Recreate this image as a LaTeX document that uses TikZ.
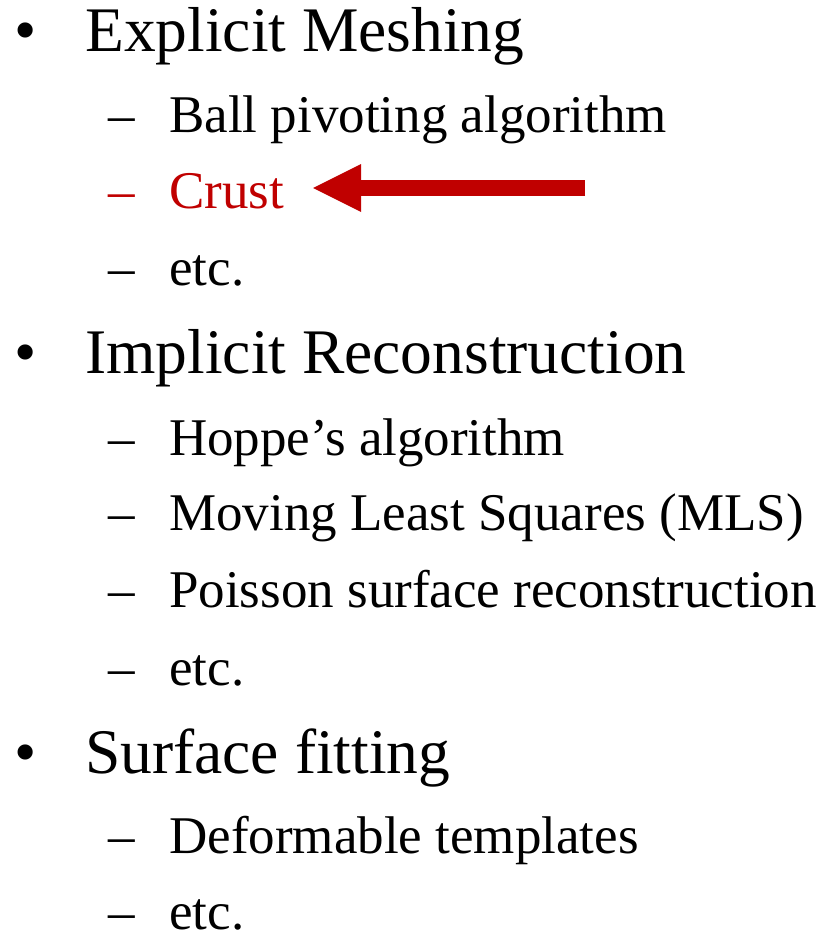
\documentclass[tikz,border=0pt]{standalone}
\usepackage{fontspec}
\setmainfont{Liberation Serif}
\usetikzlibrary{arrows.meta}
\definecolor{crustred}{RGB}{192,0,0}

\begin{document}
\begin{tikzpicture}[x=1pt,y=-1pt,
        item/.style={anchor=base west,inner sep=0pt},
        head/.style={item,font=\fontsize{63.5}{76}\selectfont},
        sub/.style={item,font=\fontsize{53}{64}\selectfont},
        hot/.style={text=crustred},
        pointer/.style={draw=crustred,line width=16pt,-{Triangle[length=48pt,width=48pt,line width=0pt]}}]
        \useasboundingbox (0,0) rectangle (823,931);

        % First block: explicit meshing
        \node[head] (b1) at (14,52) {•};
        \node[head] (h1) at (85,52) {Explicit Meshing};
        \node[sub] (d11) at (108,132) {–};
        \node[sub] (s11) at (169,132) {Ball pivoting algorithm};
        \node[sub,hot] (d12) at (108,208) {–};
        \node[sub,hot] (crust) at (169,208) {Crust};
        \node[sub] (d13) at (108,285) {–};
        \node[sub] (s13) at (169,285) {etc.};

        % Second block: implicit reconstruction
        \node[head] (b2) at (14,373) {•};
        \node[head] (h2) at (85,373) {Implicit Reconstruction};
        \node[sub] (d21) at (108,455) {–};
        \node[sub] (s21) at (169,455) {Hoppe’s algorithm};
        \node[sub] (d22) at (108,530) {–};
        \node[sub] (s22) at (169,530) {Moving Least Squares (MLS)};
        \node[sub] (d23) at (108,607) {–};
        \node[sub] (s23) at (169,607) {Poisson surface reconstruction};
        \node[sub] (d24) at (108,685) {–};
        \node[sub] (s24) at (169,685) {etc.};

        % Third block: surface fitting
        \node[head] (b3) at (14,773) {•};
        \node[head] (h3) at (85,773) {Surface fitting};
        \node[sub] (d31) at (108,853) {–};
        \node[sub] (s31) at (169,853) {Deformable templates};
        \node[sub] (d32) at (108,929) {–};
        \node[sub] (s32) at (169,929) {etc.};

        % red pointer at the crust item
        \coordinate (ptail) at (585,188);
        \coordinate (ptip) at (313,188);
        \draw[pointer] (ptail) -- (ptip);
\end{tikzpicture}
\end{document}
